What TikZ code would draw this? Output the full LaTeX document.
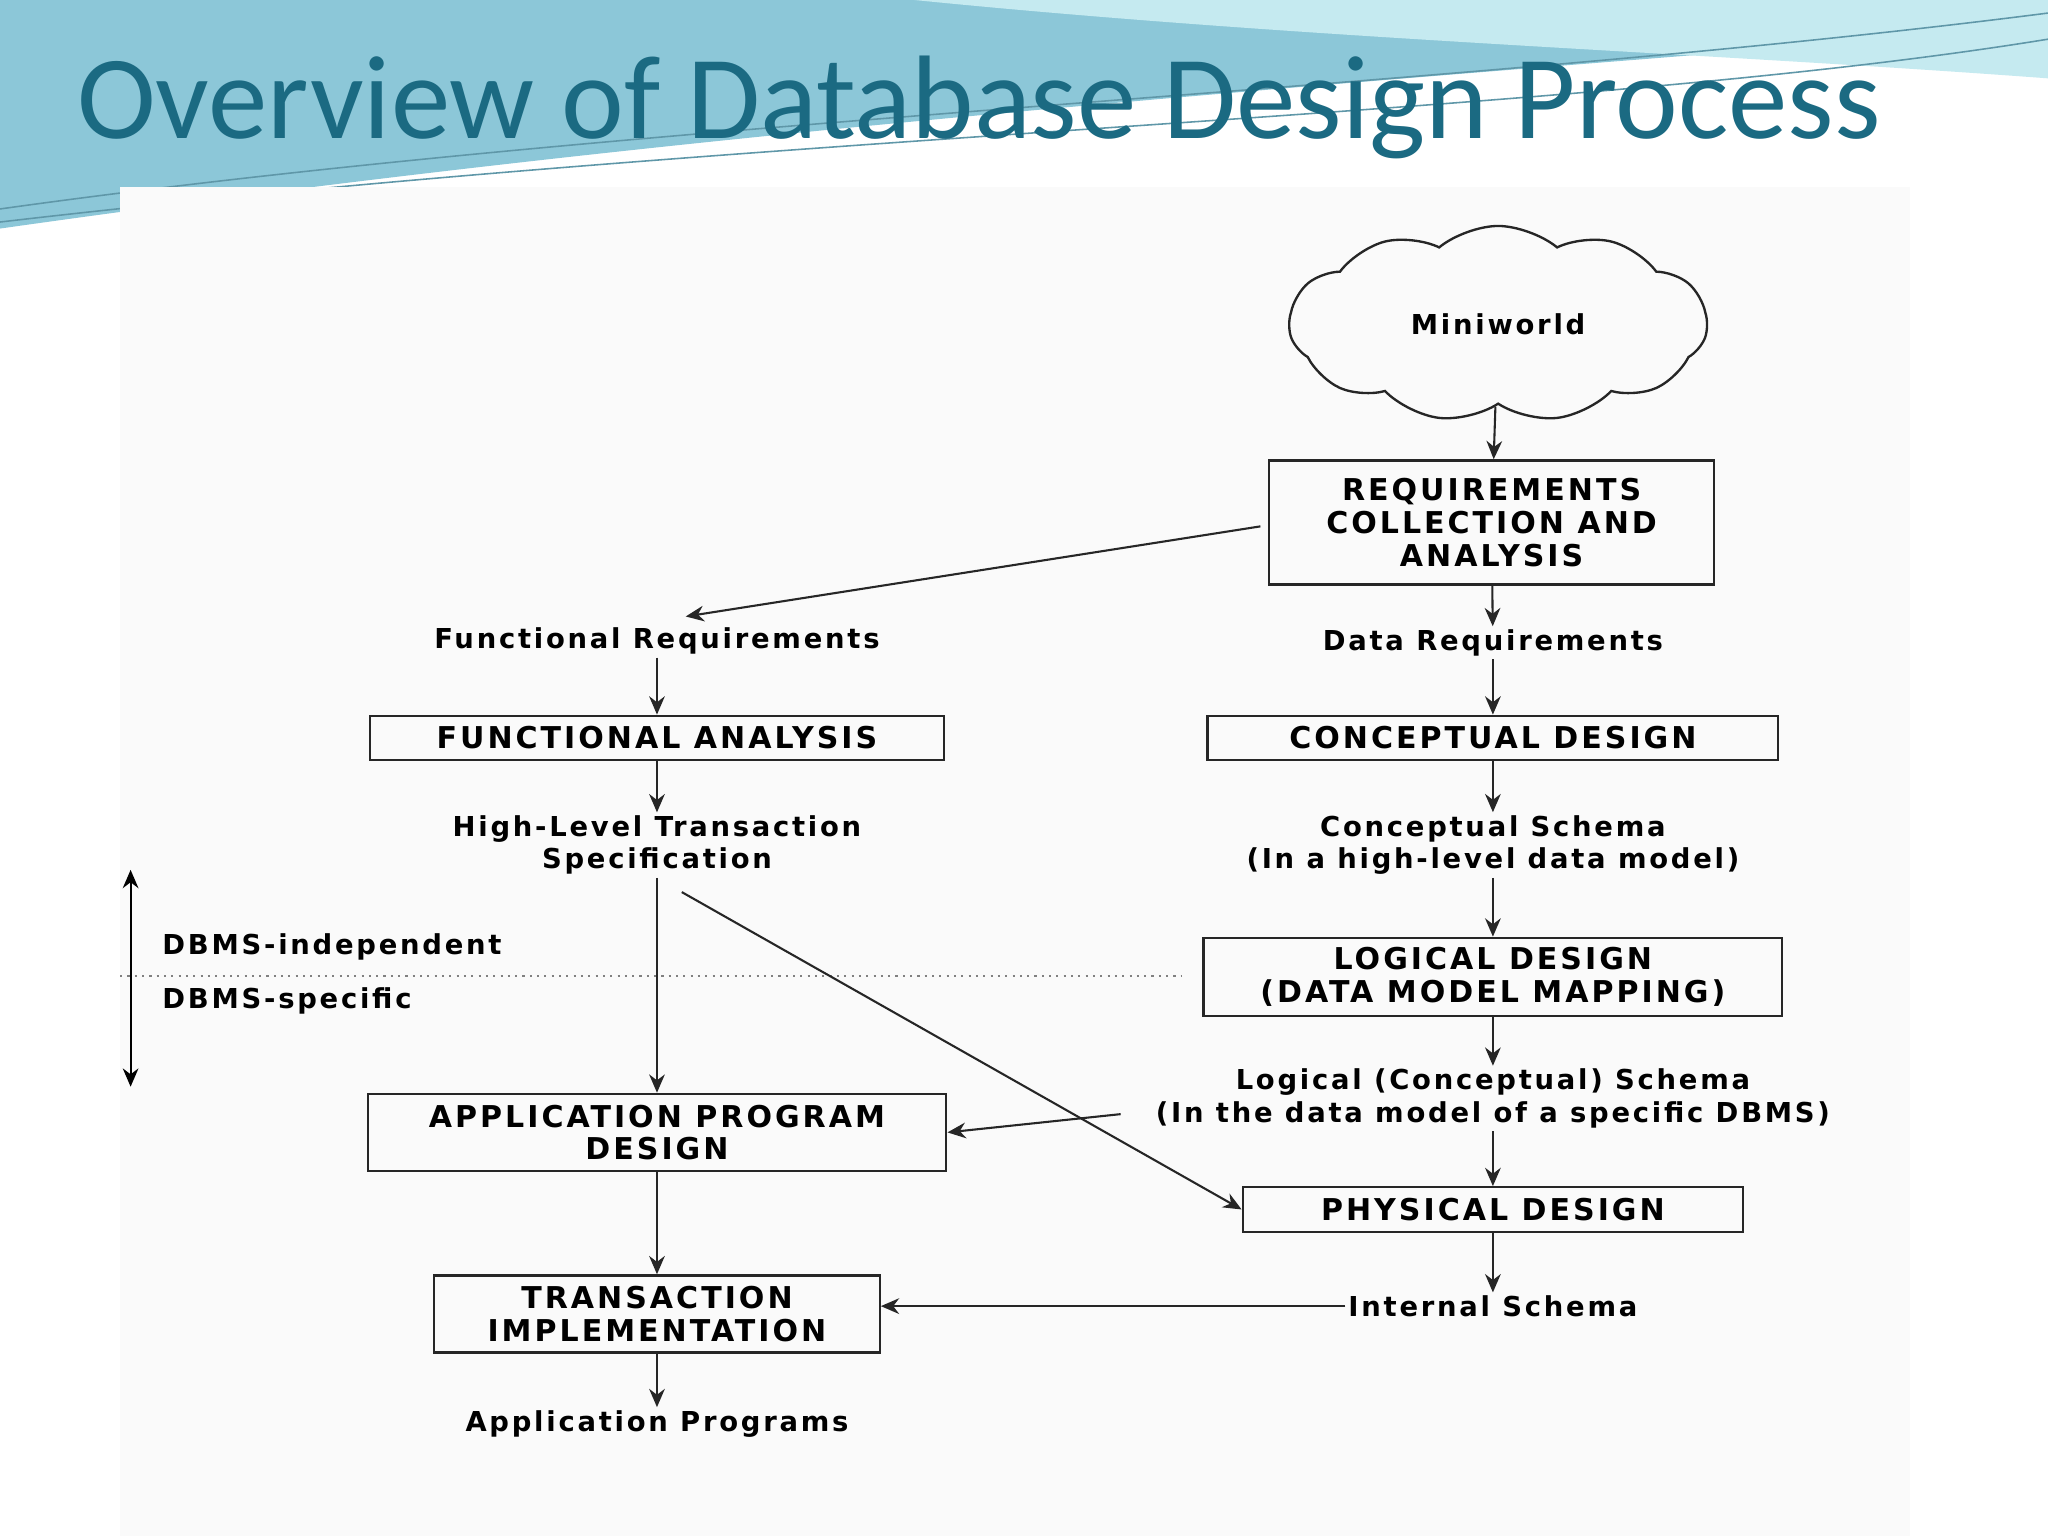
\documentclass[tikz,border=0pt]{standalone}
\usepackage{fontspec}
\setmainfont{DejaVu Sans}[LetterSpace=10]
\newfontfamily\ttl{Carlito}
\usetikzlibrary{arrows.meta,shapes.symbols}
\definecolor{teal1}{HTML}{1B6A82}
\definecolor{sw1}{HTML}{8CC7D8}
\definecolor{sw2}{HTML}{C5EAF0}
\begin{document}
\begin{tikzpicture}[x=0.5pt,y=-0.5pt,
  box/.style={draw=black!85,line width=0.9pt,inner sep=0pt,align=center,font=\fontsize{11.5}{12.5}\selectfont\bfseries},
  lbl/.style={align=center,font=\fontsize{10.5}{12.5}\selectfont\bfseries,inner sep=1pt},
  arr/.style={line width=0.8pt,draw=black!85,-{Stealth[length=7pt,width=6pt]}}]
\useasboundingbox (0,0) rectangle (1568,1176);
\fill[white] (0,0) rectangle (1568,1176);
% header swoosh
\fill[sw1] (0,0) -- (1568,0) -- (1568,20) .. controls (1100,60) and (600,90) .. (0,175) -- cycle;
\fill[sw2] (700,0) -- (1568,0) -- (1568,60) .. controls (1300,40) and (1000,30) .. (700,0) -- cycle;
\draw[teal1!70,line width=0.6pt] (0,160) .. controls (500,90) and (1100,70) .. (1568,10);
\draw[teal1!70,line width=0.6pt] (0,170) .. controls (600,100) and (1200,90) .. (1568,30);
\fill[black!2] (92,143) rectangle (1462,1176);
\node[anchor=west,text=teal1,font=\ttl\fontsize{45.5}{48}\selectfont] (title) at (52,82) {Overview of Database Design Process};
% cloud
\node[cloud,cloud puffs=11,cloud puff arc=80,aspect=2.2,draw=black!85,line width=0.9pt,minimum width=320pt*0.5,minimum height=150pt*0.5,font=\fontsize{10.5}{12}\selectfont\bfseries] (mw) at (1147,248) {Miniworld};
\node[box,minimum width=341*0.5pt,minimum height=95*0.5pt] (req) at (1142,400) {REQUIREMENTS\\COLLECTION AND\\ANALYSIS};
\node[lbl] (freq) at (503,491) {Functional Requirements};
\node[lbl] (dreq) at (1143,492) {Data Requirements};
\node[box,minimum width=439*0.5pt,minimum height=34*0.5pt] (fa) at (503,565) {FUNCTIONAL ANALYSIS};
\node[box,minimum width=437*0.5pt,minimum height=34*0.5pt] (cd) at (1143,565) {CONCEPTUAL DESIGN};
\node[lbl] (hlts) at (503,647) {High-Level Transaction\\Specification};
\node[lbl] (cs) at (1143,647) {Conceptual Schema\\(In a high-level data model)};
\node[box,minimum width=443*0.5pt,minimum height=60*0.5pt] (ld) at (1143,748) {LOGICAL DESIGN\\(DATA MODEL MAPPING)};
\node[lbl,anchor=west] (di) at (122,725) {DBMS-independent};
\node[lbl,anchor=west] (ds) at (122,766) {DBMS-specific};
\node[lbl] (ls) at (1143,841) {Logical (Conceptual) Schema\\(In the data model of a specific DBMS)};
\node[box,minimum width=443*0.5pt,minimum height=59*0.5pt] (apd) at (503,867) {APPLICATION PROGRAM\\DESIGN};
\node[box,minimum width=383*0.5pt,minimum height=34*0.5pt] (pd) at (1143,926) {PHYSICAL DESIGN};
\node[lbl] (is) at (1143,1000) {Internal Schema};
\node[box,minimum width=341*0.5pt,minimum height=59*0.5pt] (ti) at (503,1006) {TRANSACTION\\IMPLEMENTATION};
\node[lbl] (ap) at (503,1090) {Application Programs};
\coordinate (top) at (100,666); \coordinate (bot) at (100,832);
\draw[line width=0.8pt,{Stealth[length=7pt,width=6pt]}-{Stealth[length=7pt,width=6pt]}] (top) -- (bot);
\draw[dotted,line width=0.8pt,black!50] (92,747) -- (905,747);
\coordinate (reqw) at (965,403);
\coordinate (freqn) at (525,472);
\coordinate (hltsb) at (522,683);
\coordinate (lsw) at (858,853);
% arrows
\draw[arr] (mw) -- (req);
\draw[arr] (reqw) -- (freqn);
\draw[arr] (req) -- (dreq);
\draw[arr] (dreq) -- (cd);
\draw[arr] (cd) -- (cs);
\draw[arr] (cs) -- (ld);
\draw[arr] (ld) -- (ls);
\draw[arr] (ls) -- (pd);
\draw[arr] (pd) -- (is);
\draw[arr] (is.west) -- (ti.east |- is.west);
\draw[arr] (freq) -- (fa);
\draw[arr] (fa) -- (hlts);
\draw[arr] (hlts) -- (apd);
\draw[arr] (hltsb) -- (pd.west);
\draw[arr] (lsw) -- (apd.east);
\draw[arr] (apd) -- (ti);
\draw[arr] (ti) -- (ap);
\end{tikzpicture}
\end{document}
